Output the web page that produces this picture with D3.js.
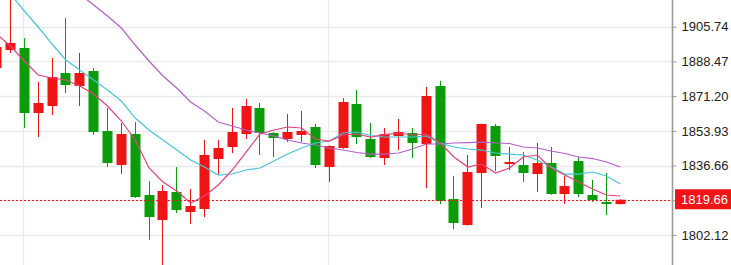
<!DOCTYPE html>
<html>
<head>
<meta charset="utf-8">
<script src="https://cdn.jsdelivr.net/npm/d3@7"></script>
<style>
  html, body { margin: 0; padding: 0; background: #fff; overflow: hidden; }
  .axis text { font-family: "Liberation Sans", Arial, sans-serif; font-size: 13px; fill: #222; }
</style>
</head>
<body>
<svg id="chart" width="731" height="265"></svg>
<script>
// candle data, oldest first (first candle is cut off at the left edge)
var opens = [1885.19, 1894.14, 1895.14, 1862.80, 1866.28, 1882.70, 1876.23, 1883.70, 1853.85, 1836.93,
    1852.35, 1822.01, 1809.57, 1823.50, 1813.55, 1815.04, 1839.92, 1845.89, 1852.35, 1865.29,
    1852.85, 1849.87, 1851.86, 1855.84, 1835.94, 1845.39, 1867.28, 1849.87, 1840.41, 1851.36,
    1852.85, 1847.38, 1876.23, 1820.02, 1807.08, 1832.95, 1856.33, 1837.43, 1836.93, 1832.45,
    1837.93, 1822.50, 1838.92, 1822.01, 1818.52, 1817.53];
var highs = [1899.12, 1920.02, 1900.11, 1878.22, 1890.16, 1910.06, 1892.65, 1885.19, 1865.29, 1857.83,
    1858.32, 1828.97, 1826.98, 1835.94, 1824.99, 1849.37, 1849.37, 1865.29, 1869.77, 1867.78,
    1853.35, 1862.30, 1863.80, 1857.33, 1846.70, 1870.26, 1874.24, 1857.83, 1855.34, 1859.82,
    1855.34, 1875.74, 1878.72, 1831.46, 1841.91, 1857.60, 1857.33, 1845.89, 1843.40, 1847.88,
    1845.89, 1831.46, 1840.91, 1829.47, 1832.95, 1819.90];
var lows = [1883.20, 1892.65, 1855.34, 1850.86, 1861.81, 1872.75, 1866.28, 1851.86, 1835.94, 1832.45,
    1820.50, 1799.62, 1785.69, 1813.05, 1807.58, 1811.06, 1832.45, 1842.90, 1849.87, 1841.91,
    1840.91, 1848.37, 1848.37, 1835.44, 1828.47, 1845.00, 1847.38, 1840.50, 1836.93, 1844.39,
    1840.41, 1825.49, 1817.53, 1805.09, 1806.80, 1815.54, 1833.95, 1834.44, 1828.47, 1823.50,
    1822.20, 1817.53, 1821.01, 1818.52, 1812.05, 1817.30];
var closes = [1895.64, 1897.63, 1862.80, 1867.78, 1880.71, 1876.73, 1882.70, 1853.35, 1837.93, 1852.35,
    1821.01, 1811.06, 1824.00, 1814.54, 1816.53, 1841.91, 1845.39, 1853.35, 1866.28, 1852.85,
    1850.36, 1853.35, 1853.85, 1836.93, 1846.38, 1868.27, 1850.86, 1840.91, 1852.35, 1853.35,
    1847.88, 1871.26, 1819.02, 1808.07, 1833.45, 1857.33, 1841.41, 1838.42, 1832.95, 1837.93,
    1822.50, 1826.48, 1822.50, 1819.52, 1817.53, 1819.66];

// moving averages
var maFast = [1902.10, 1896.13, 1888.67, 1881.71, 1880.21, 1879.22, 1876.23, 1872.25, 1866.28, 1858.82,
    1849.37, 1835.44, 1828.47, 1824.00, 1818.02, 1821.51, 1826.98, 1834.44, 1843.40, 1852.35,
    1854.34, 1855.84, 1855.34, 1849.87, 1848.87, 1851.86, 1852.35, 1850.86, 1852.10, 1852.85,
    1851.86, 1852.35, 1847.88, 1840.91, 1835.94, 1837.43, 1832.95, 1835.44, 1840.91, 1841.91,
    1835.44, 1831.96, 1828.47, 1824.99, 1822.01, 1821.51];
var maMid = [1928.97, 1922.01, 1913.55, 1905.59, 1897.13, 1889.17, 1884.19, 1879.22, 1874.24, 1868.77,
    1860.31, 1854.34, 1849.37, 1844.39, 1839.42, 1835.94, 1831.96, 1832.45, 1834.44, 1835.44,
    1838.92, 1842.40, 1845.39, 1847.88, 1848.87, 1852.85, 1853.35, 1851.61, 1850.86, 1850.86,
    1850.86, 1851.36, 1847.88, 1845.89, 1844.89, 1844.39, 1842.90, 1842.40, 1841.91, 1839.42,
    1835.94, 1832.45, 1832.45, 1833.45, 1831.46, 1827.48];
var maSlow = [1955.34, 1949.87, 1943.90, 1938.42, 1932.95, 1927.48, 1922.01, 1916.53, 1911.06, 1905.09,
    1896.63, 1888.67, 1881.21, 1875.24, 1868.27, 1863.80, 1858.32, 1856.33, 1854.34, 1852.85,
    1851.36, 1849.37, 1847.88, 1846.88, 1845.39, 1844.39, 1843.15, 1842.40, 1842.40, 1842.90,
    1844.89, 1847.38, 1847.38, 1847.88, 1848.12, 1848.37, 1847.88, 1847.63, 1845.89, 1845.39,
    1843.90, 1842.65, 1840.91, 1840.16, 1838.42, 1835.94];

var priceTicks = [1784.85, 1802.12, 1819.39, 1836.66, 1853.93, 1871.20, 1888.47, 1905.74];
var lastPrice = 1819.66;
var vGridIdx = [2, 24];

var UP = "#f01414", DOWN = "#0b9c0b";
var W = 731, H = 265, plotW = 672;

var svg = d3.select("#chart");

var x = d3.scaleLinear()
    .domain([0, 45])
    .range([-3.9, 619.8]);
var y = d3.scaleLinear()
    .domain([1802.12, 1905.74])
    .range([235, 26.7]);

svg.append("defs").append("clipPath").attr("id", "plotClip")
    .append("rect").attr("x", 0).attr("y", 0).attr("width", plotW).attr("height", H);

var plot = svg.append("g").attr("clip-path", "url(#plotClip)");

// grid
plot.selectAll("line.hgrid").data(priceTicks).enter().append("line")
    .attr("class", "hgrid")
    .attr("x1", 0).attr("x2", plotW)
    .attr("y1", d => Math.round(y(d)) + 0.5).attr("y2", d => Math.round(y(d)) + 0.5)
    .attr("stroke", "#e9e9ee").attr("stroke-width", 1.3);
plot.selectAll("line.vgrid").data(vGridIdx).enter().append("line")
    .attr("class", "vgrid")
    .attr("x1", d => Math.round(x(d)) - 0.5).attr("x2", d => Math.round(x(d)) - 0.5)
    .attr("y1", 0).attr("y2", H)
    .attr("stroke", "#e9e9ee").attr("stroke-width", 1.3);

// candles
var candles = opens.map(function (o, i) {
    return {i: i, o: o, h: highs[i], l: lows[i], c: closes[i]};
});
var g = plot.selectAll("g.candle").data(candles).enter().append("g").attr("class", "candle");
g.append("line")
    .attr("x1", d => Math.round(x(d.i)) + 0.5).attr("x2", d => Math.round(x(d.i)) + 0.5)
    .attr("y1", d => y(d.h)).attr("y2", d => y(d.l))
    .attr("stroke", d => d.c >= d.o ? UP : DOWN).attr("stroke-width", 1);
g.append("rect")
    .attr("x", d => Math.round(x(d.i)) - 4.5)
    .attr("width", 10)
    .attr("y", d => y(Math.max(d.o, d.c)))
    .attr("height", d => Math.max(1.5, Math.abs(y(d.o) - y(d.c))))
    .attr("fill", d => d.c >= d.o ? UP : DOWN);

// moving averages
function drawLine(vals, color) {
    var line = d3.line()
        .x(function (d, i) { return x(i) + 0.5; })
        .y(function (d) { return y(d); });
    plot.append("path").datum(vals)
        .attr("d", line)
        .attr("fill", "none")
        .attr("stroke", color)
        .attr("stroke-width", 1.2);
}
drawLine(maSlow, "#b45fc9");
drawLine(maMid, "#46c6da");
drawLine(maFast, "#e8417a");

// last price line
plot.append("line")
    .attr("x1", 0).attr("x2", plotW)
    .attr("y1", Math.round(y(lastPrice)) + 0.5).attr("y2", Math.round(y(lastPrice)) + 0.5)
    .attr("stroke", UP).attr("stroke-width", 1)
    .attr("stroke-dasharray", "2,2");

// price axis
var axis = d3.axisRight(y)
    .tickValues(priceTicks)
    .tickFormat(d3.format(".2f"))
    .tickSize(4)
    .tickPadding(5);
var ax = svg.append("g").attr("class", "axis")
    .attr("transform", "translate(" + (plotW + 0.5) + ",0)")
    .call(axis);
ax.select(".domain").attr("stroke", "#9a9a9a").attr("stroke-width", 1.6);
ax.selectAll(".tick line").attr("stroke", "#9a9a9a");
ax.select(".domain").attr("d", "M0,0V" + H);

// current price marker
var py = y(lastPrice);
svg.append("rect")
    .attr("x", 675).attr("y", py - 10.5)
    .attr("width", W - 675).attr("height", 20)
    .attr("fill", UP);
svg.append("text")
    .attr("x", 681).attr("y", py)
    .attr("dy", "0.34em")
    .attr("fill", "#fff")
    .style("font-family", "'Liberation Sans', Arial, sans-serif")
    .style("font-size", "13px")
    .text(d3.format(".2f")(lastPrice));
</script>
</body>
</html>
